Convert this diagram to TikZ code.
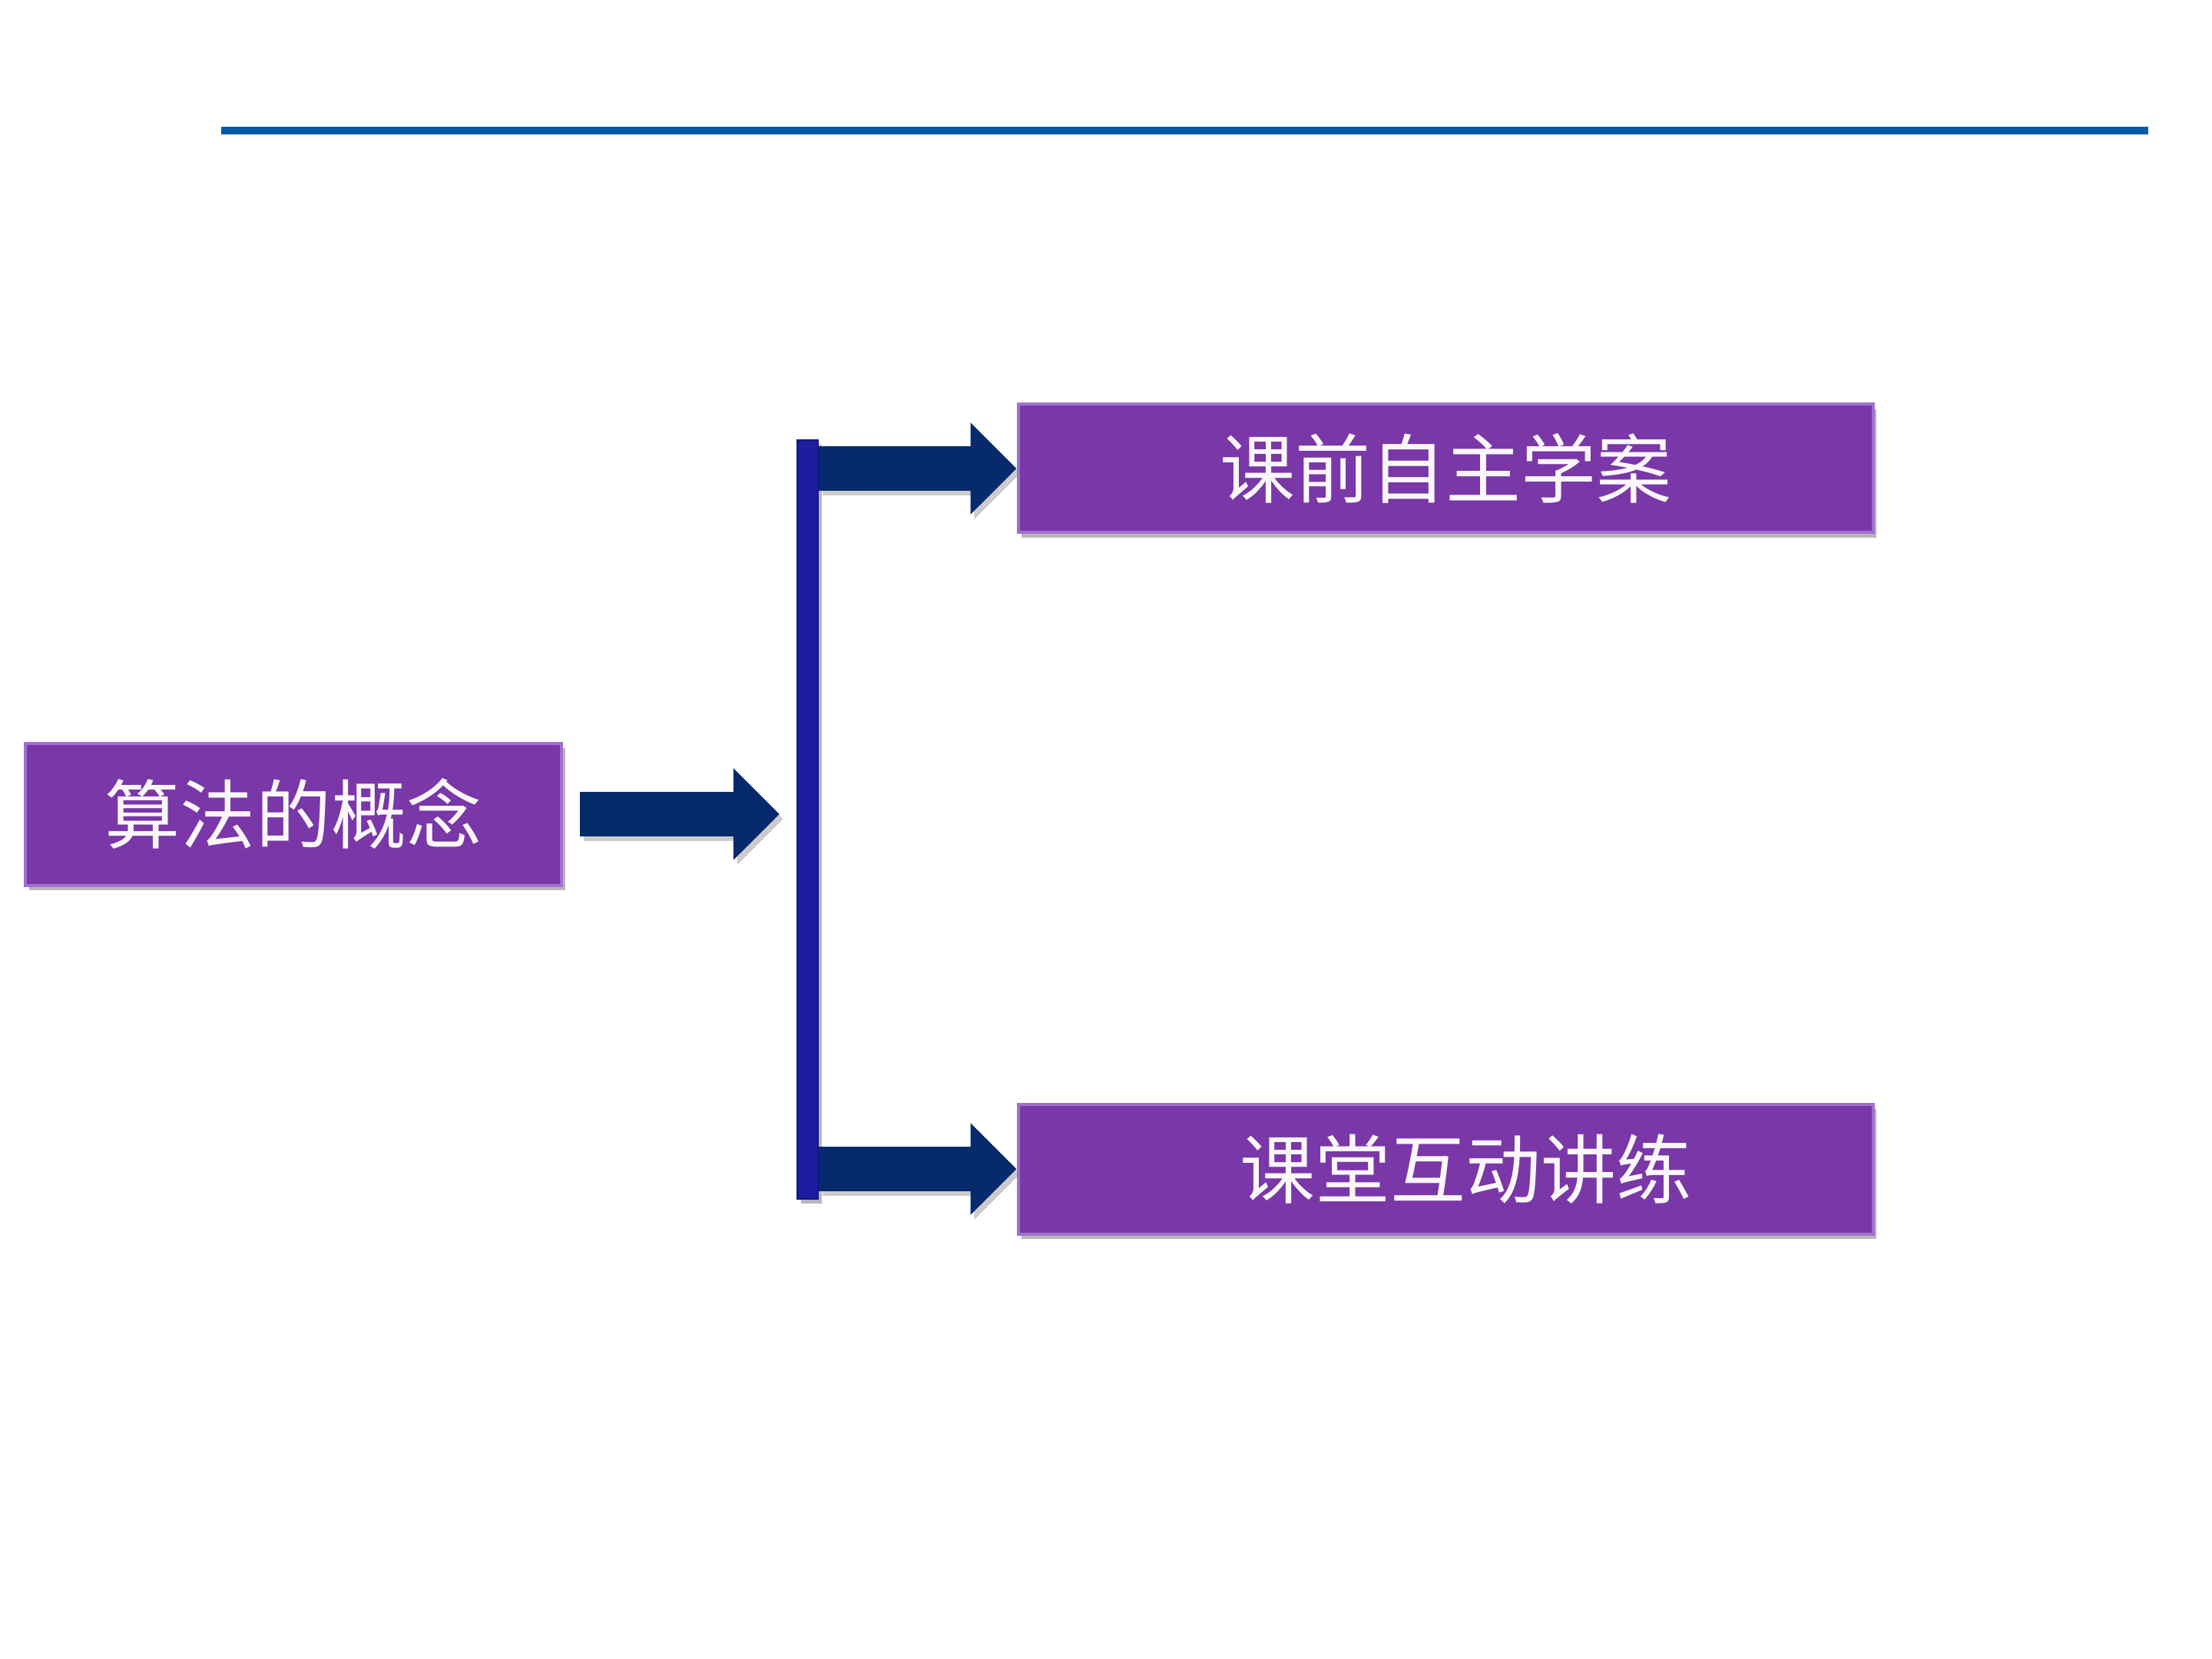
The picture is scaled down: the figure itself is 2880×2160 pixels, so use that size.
\documentclass[tikz,border=0pt]{standalone}
\usepackage{fontspec}
\newfontfamily\cjk{Noto Sans CJK SC}
\usetikzlibrary{arrows.meta,shadows}
\definecolor{boxpurple}{HTML}{7A37A8}
\definecolor{boxedge}{HTML}{A070D0}
\definecolor{arrownavy}{HTML}{062A6C}
\definecolor{barblue}{HTML}{1D1DA0}
\definecolor{topline}{HTML}{055AA8}
\tikzset{
  topic/.style={draw=boxedge, line width=1pt, fill=boxpurple, inner sep=0pt,
    text=white!96!boxpurple, font=\cjk\fontsize{24.5pt}{28pt}\selectfont,
    drop shadow={shadow xshift=1.2pt, shadow yshift=-1.6pt, opacity=0.4, fill=black!70}},
  barstyle/.style={fill=barblue, draw=barblue!80!black, line width=0.6pt, inner sep=0pt,
    minimum width=6.75pt, minimum height=247pt,
    drop shadow={shadow xshift=1.2pt, shadow yshift=-1.6pt, opacity=0.4, fill=black!70}},
  bigarrow/.style={draw=arrownavy, line width=14.5pt,
    -{Triangle[length=15pt,width=29pt]}},
  arrowshadow/.style={draw=black!45, opacity=0.45, line width=14.5pt,
    -{Triangle[length=15pt,width=29pt]}, transform canvas={shift={(1.2pt,-1.6pt)}}},
  ruleline/.style={draw=topline, line width=2.7pt}
}
\begin{document}
\begin{tikzpicture}[x=0.25pt,y=-0.25pt]
\useasboundingbox (0,0) rectangle (2880,2160);
\coordinate (lineL) at (288,170);
\coordinate (lineR) at (2797,170);
\draw[ruleline] (lineL) -- (lineR);

\node[topic, minimum width=174.5pt, minimum height=46.25pt] (L) at (382,1060) {算法的概念};
\node[topic, minimum width=278.25pt, minimum height=41.75pt] (T) at (1882,610) {课前自主学案};
\node[topic, minimum width=278.25pt, minimum height=42.25pt] (B) at (1882,1522) {\hspace*{13pt}课堂互动讲练};
\node[barstyle] (bar) at (1051.5,1067) {};

\draw[arrowshadow] ([xshift=5.5pt]L.east) -- ([xshift=-5.5pt]L.east -| bar.west);
\draw[arrowshadow] (bar.east |- T.west) -- (T.west);
\draw[arrowshadow] (bar.east |- B.west) -- (B.west);
\draw[bigarrow] ([xshift=5.5pt]L.east) -- ([xshift=-5.5pt]L.east -| bar.west);
\draw[bigarrow] (bar.east |- T.west) -- (T.west);
\draw[bigarrow] (bar.east |- B.west) -- (B.west);
\end{tikzpicture}
\end{document}
